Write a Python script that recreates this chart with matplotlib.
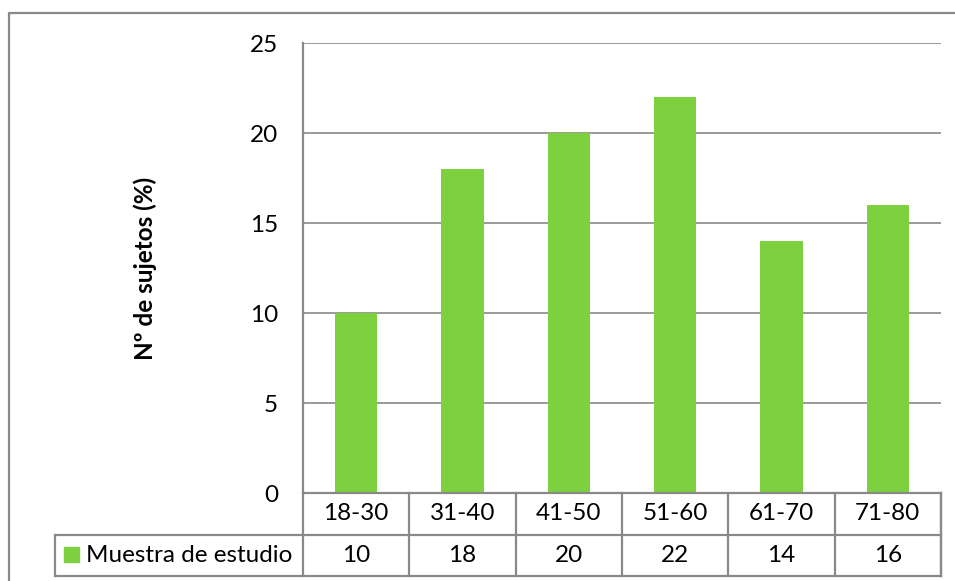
import numpy as np
import matplotlib.pyplot as plt
from matplotlib.lines import Line2D
from matplotlib.patches import Rectangle
from matplotlib.transforms import blended_transform_factory

plt.rcParams['font.family'] = ['Lato', 'DejaVu Sans']

# datos
grupos = ['18-30', '31-40', '41-50', '51-60', '61-70', '71-80']
muestra = [10, 18, 20, 22, 14, 16]
serie = 'Muestra de estudio'
y_ticks = [0, 5, 10, 15, 20, 25]

VERDE = '#7ED13E'
GRIS = '#898989'
W, H = 955, 581
FS = 17.5


def fx(px):
    return px / W


def fy(py):
    return 1 - py / H


fig = plt.figure(figsize=(W / 100, H / 100), dpi=100)
ax = fig.add_axes([fx(303), fy(493), fx(941) - fx(303), fy(43) - fy(493)])

x = np.arange(len(grupos))
ax.bar(x, muestra, width=0.4, color=VERDE, zorder=3)
ax.set_xlim(-0.5, len(grupos) - 0.5)
ax.set_ylim(0, 25)
ax.set_yticks(y_ticks)
ax.set_xticks([])
ax.tick_params(axis='y', length=0, pad=18, labelsize=FS)
ax.grid(axis='y', color=GRIS, linewidth=1.2, zorder=0)
for s in ['top', 'right', 'bottom']:
    ax.spines[s].set_visible(False)
ax.spines['left'].set_color(GRIS)
ax.spines['left'].set_linewidth(1.6)

# título del eje y
fig.text(fx(145), fy(268), 'Nº de sujetos (%)', fontsize=FS, fontweight='bold',
         rotation=90, ha='center', va='center')

# tabla de datos bajo el eje
tr = blended_transform_factory(ax.transData, fig.transFigure)
x_left = -0.5
x_right = len(grupos) - 0.5
y_r0, y_r1, y_r2 = fy(493), fy(535), fy(576)
lw = 1.6
lines = [
    ([x_left, x_right], [y_r0, y_r0]),
    ([x_right, x_right], [y_r0, y_r2]),
]
for b in np.arange(len(grupos) + 1) - 0.5:
    lines.append(([b, b], [y_r0, y_r2]))
for xs, ys in lines:
    fig.add_artist(Line2D(xs, ys, transform=tr, color=GRIS, linewidth=lw))

# líneas horizontales que incluyen la celda de leyenda
for yy in [y_r1, y_r2]:
    fig.add_artist(Line2D([fx(55), fx(941)], [yy, yy], transform=fig.transFigure,
                          color=GRIS, linewidth=lw))
fig.add_artist(Line2D([fx(55), fx(55)], [y_r1, y_r2], transform=fig.transFigure,
                      color=GRIS, linewidth=lw))

for i, (g, v) in enumerate(zip(grupos, muestra)):
    fig.text(i, (y_r0 + y_r1) / 2, g, transform=tr, fontsize=FS, ha='center', va='center')
    fig.text(i, (y_r1 + y_r2) / 2, str(v), transform=tr, fontsize=FS, ha='center', va='center')

fig.add_artist(Rectangle((fx(64), fy(562)), fx(15), fy(547) - fy(562),
                         transform=fig.transFigure, color=VERDE))
fig.text(fx(86), (y_r1 + y_r2) / 2, serie, fontsize=FS, ha='left', va='center')

# borde exterior del gráfico
fig.add_artist(Line2D([fx(9), fx(9), 1], [0, fy(13), fy(13)], transform=fig.transFigure,
                      color=GRIS, linewidth=1.6))

fig.savefig('out.png', dpi=100)
